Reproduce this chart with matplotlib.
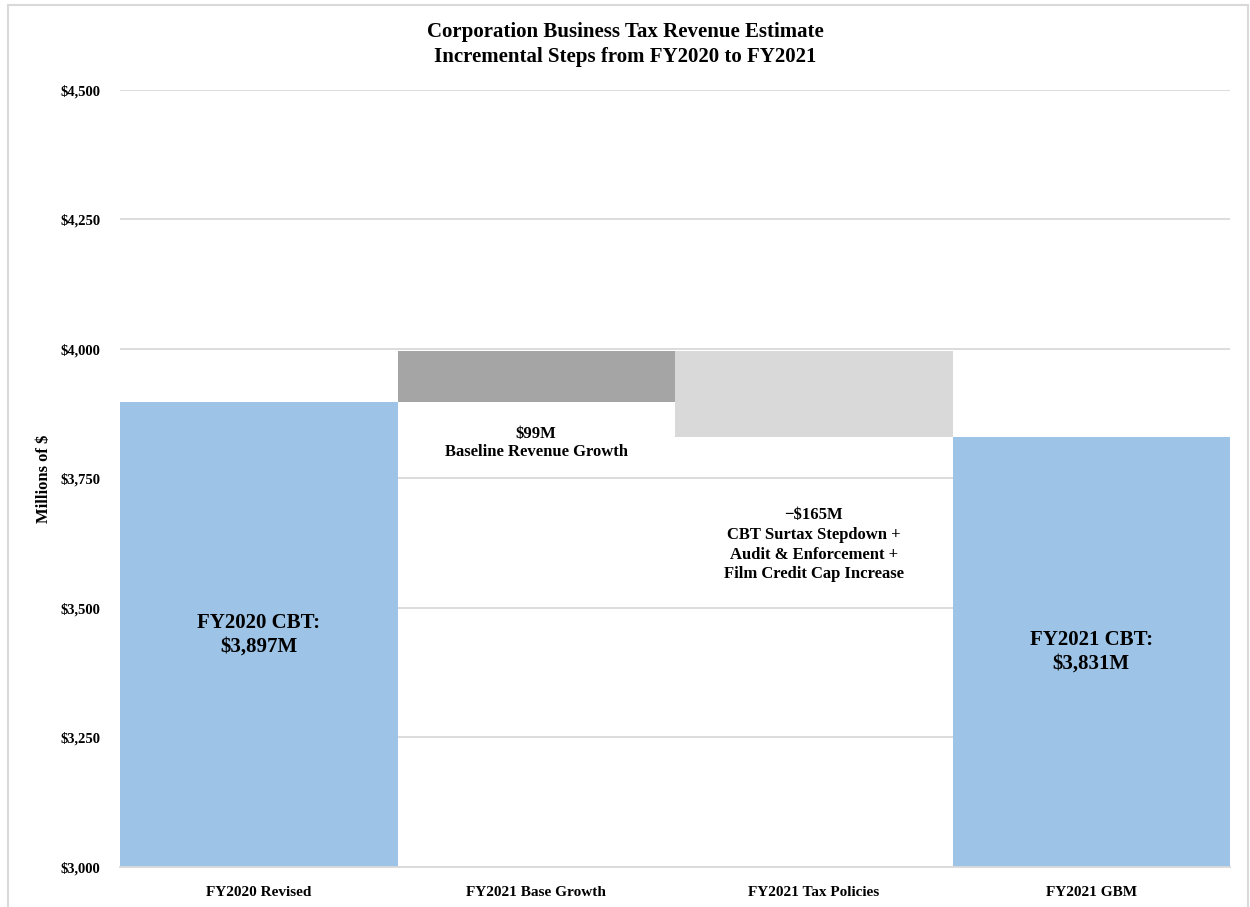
import matplotlib
matplotlib.use('Agg')
import matplotlib.pyplot as plt
from matplotlib.patches import Rectangle
from matplotlib.ticker import FuncFormatter

plt.rcParams['font.family'] = ['Liberation Serif', 'DejaVu Serif']
plt.rcParams['font.weight'] = 'bold'

categories = ['FY2020 Revised', 'FY2021 Base Growth', 'FY2021 Tax Policies', 'FY2021 GBM']
start_value = 3897
base_growth = 99
tax_policies = -165
end_value = start_value + base_growth + tax_policies

bottoms = [3000, start_value, start_value + base_growth + tax_policies, 3000]
heights = [start_value - 3000, base_growth, -tax_policies, end_value - 3000]
colors = ['#9DC3E6', '#A5A5A5', '#D9D9D9', '#9DC3E6']

yticks = [3000, 3250, 3500, 3750, 4000, 4250, 4500]

fig = plt.figure(figsize=(12.5, 9.07), dpi=100)
ax = fig.add_axes([0.096, 0.0441, 0.888, 0.8567])

x = range(len(categories))
ax.bar(x, heights, bottom=bottoms, width=1.0, color=colors, zorder=2)

ax.set_xlim(-0.5, len(categories) - 0.5)
ax.set_ylim(3000, 4500)
ax.set_yticks(yticks)
ax.yaxis.set_major_formatter(FuncFormatter(lambda v, p: '${:,.0f}'.format(v)))
ax.set_xticks(list(x))
ax.set_xticklabels(categories, fontsize=11)
ax.tick_params(axis='y', labelsize=10.5, length=0, pad=14)
ax.tick_params(axis='x', length=0, pad=14)
ax.grid(axis='y', color='#D9D9D9', linewidth=1.3, zorder=0)
for s in ['top', 'right', 'left']:
    ax.spines[s].set_visible(False)
ax.spines['bottom'].set_color('#D9D9D9')
ax.spines['bottom'].set_linewidth(1.3)

ax.set_ylabel('Millions of $', fontsize=12, fontweight='bold', labelpad=6)

# labels inside the total bars
ax.text(0, (3000 + start_value) / 2, 'FY2020 CBT:\n${:,}M'.format(start_value),
        ha='center', va='center', fontsize=15, zorder=3)
ax.text(3, (3000 + end_value) / 2, 'FY2021 CBT:\n${:,}M'.format(end_value),
        ha='center', va='center', fontsize=15, zorder=3)

# step annotations
ax.text(1, 3818, '${}M\nBaseline Revenue Growth'.format(base_growth),
        ha='center', va='center', fontsize=12, zorder=3)
ax.text(2, 3622, '\u2212${}M\nCBT Surtax Stepdown +\nAudit & Enforcement +\nFilm Credit Cap Increase'.format(-tax_policies),
        ha='center', va='center', fontsize=12, zorder=3, linespacing=1.3)

fig.text(0.5, 0.951, 'Corporation Business Tax Revenue Estimate\nIncremental Steps from FY2020 to FY2021',
         ha='center', va='center', fontsize=15, linespacing=1.35)

# chart frame
fig.patches.append(Rectangle((0.006, -0.01), 0.992, 1.004, transform=fig.transFigure,
                             fill=False, edgecolor='#D9D9D9', linewidth=1.5))

fig.savefig('out.png', dpi=100)
